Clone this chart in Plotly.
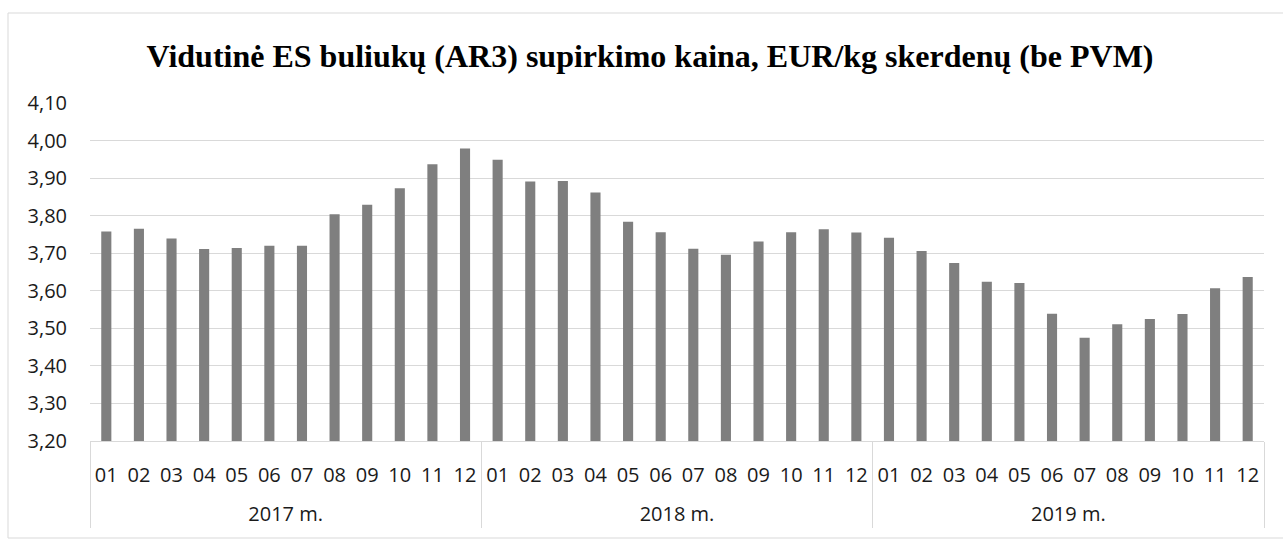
import plotly.graph_objects as go

years = ["2017 m.", "2018 m.", "2019 m."]
months = ["01", "02", "03", "04", "05", "06", "07", "08", "09", "10", "11", "12"]
prices_2017 = [3.758, 3.765, 3.739, 3.711, 3.714, 3.720, 3.720, 3.804, 3.829, 3.873, 3.937, 3.979]
prices_2018 = [3.949, 3.891, 3.892, 3.862, 3.784, 3.756, 3.712, 3.696, 3.731, 3.756, 3.764, 3.755]
prices_2019 = [3.741, 3.706, 3.674, 3.624, 3.621, 3.539, 3.475, 3.511, 3.525, 3.538, 3.607, 3.637]
title_text = "Vidutinė ES buliukų (AR3) supirkimo kaina, EUR/kg skerdenų (be PVM)"
y_ticks = [3.2, 3.3, 3.4, 3.5, 3.6, 3.7, 3.8, 3.9, 4.0, 4.1]

x_year = []
x_month = []
values = []
for yr, series in zip(years, [prices_2017, prices_2018, prices_2019]):
    for m, v in zip(months, series):
        # leading line break pushes the year row further below the month row
        x_year.append("<br>" + yr)
        x_month.append(m)
        values.append(v)

fig = go.Figure()
fig.add_trace(go.Bar(
    x=[x_year, x_month],
    y=values,
    marker=dict(color="#7f7f7f", line=dict(width=0)),
    hoverinfo="y",
))

fig.update_layout(
    width=1283,
    height=540,
    paper_bgcolor="white",
    plot_bgcolor="white",
    separators=", ",
    showlegend=False,
    bargap=0.69,
    margin=dict(l=90, r=19, t=103, b=99, autoexpand=False),
    title=dict(
        text="<b>" + title_text + "</b>",
        font=dict(family="Liberation Serif", size=32, color="#000000"),
        x=650 / 1283, xanchor="center",
        y=1 - 56 / 540, yanchor="middle",
        xref="container", yref="container",
    ),
    font=dict(family="Open Sans", size=20, color="#1a1a1a"),
)

fig.update_xaxes(
    type="multicategory",
    showgrid=False,
    showline=True,
    linecolor="#d9d9d9",
    linewidth=1,
    ticks="",
    ticklabelstandoff=16,
    showdividers=True,
    dividercolor="#d9d9d9",
    dividerwidth=1,
    tickfont=dict(family="Open Sans", size=20, color="#1a1a1a"),
)

fig.update_yaxes(
    range=[3.2, 4.1],
    tickvals=y_ticks,
    tickformat=".2f",
    showgrid=True,
    gridcolor="#d9d9d9",
    gridwidth=1,
    zeroline=False,
    showline=False,
    ticks="",
    ticklabelstandoff=22,
    tickfont=dict(family="Open Sans", size=20, color="#1a1a1a"),
)

fig.add_shape(
    type="rect", xref="paper", yref="paper",
    x0=-82 / 1174, x1=1 + 40 / 1174, y0=-97 / 338, y1=1 + 90 / 338,
    line=dict(color="#d9d9d9", width=1), fillcolor="rgba(0,0,0,0)",
    layer="below",
)

fig.write_html(
    "out.html",
    config={"displayModeBar": False},
    post_script="document.body.style.margin='0';document.body.style.padding='0';",
)
